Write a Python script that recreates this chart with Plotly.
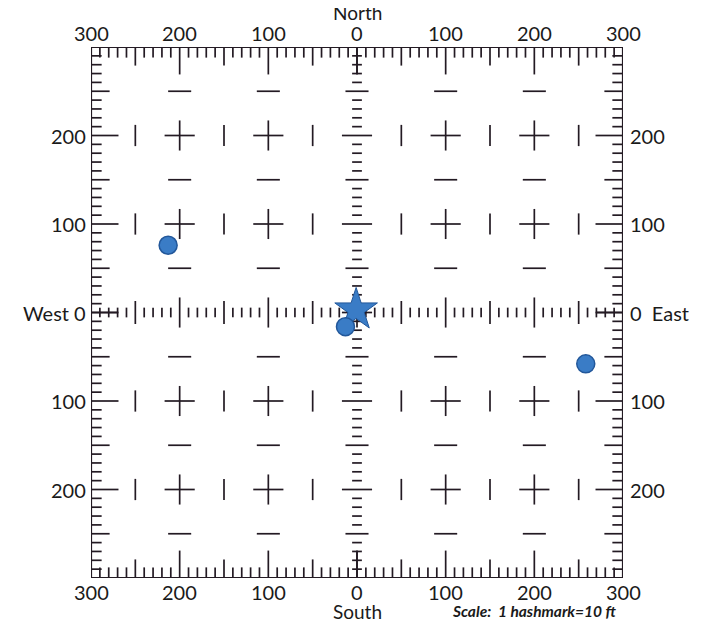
import plotly.graph_objects as go

# ---- data ----
grid_extent = 300          # ft, each direction
hash_step = 10             # 1 hashmark = 10 ft
edge_label_vals = [-300, -200, -100, 0, 100, 200, 300]
edge_label_text = ["300", "200", "100", "0", "100", "200", "300"]
side_label_vals = [200, 100, 0, -100, -200]
left_label_text = ["200", "100", "West 0", "100", "200"]
right_label_text = ["200", "100", "0  East", "100", "200"]

site_x = [-213, -13, 258]
site_y = [76, -16, -58]
center_x = [-1]
center_y = [3]

# ---- styles ----
INK = "#231a23"
TXT = "#1a1a1a"
FONT = "Lato"
BLUE = "#3a7cc6"
BLUE_EDGE = "#22579a"
LBL = 20

# tick lengths (data units)
EDGE_LEN = {10: 12, 50: 21, 100: 31}
AXIS_HALF = {10: 5.5, 50: 13, 100: 17}
CROSS_HALF = 17
BAR_HALF = 12
DASH_HALF = 13

xs, ys = [], []


def seg(x0, y0, x1, y1):
    xs.extend([x0, x1, None])
    ys.extend([y0, y1, None])


def kind(v):
    if v % 100 == 0:
        return 100
    if v % 50 == 0:
        return 50
    return 10


E = grid_extent
positions = list(range(-E + hash_step, E, hash_step))

# edge hashmarks pointing inward
for v in positions:
    L = EDGE_LEN[kind(v)]
    seg(v, E, v, E - L)      # top
    seg(v, -E, v, -E + L)    # bottom
    seg(-E, v, -E + L, v)    # left
    seg(E, v, E - L, v)      # right

# central axes hashmarks
for v in positions:
    h = AXIS_HALF[kind(v)]
    seg(v, -h, v, h)         # on east-west axis
    seg(-h, v, h, v)         # on north-south axis

# short axis line stubs at the edges
stub = 30
seg(-E, 0, -E + stub, 0)
seg(E - stub, 0, E, 0)
seg(0, E, 0, E - stub)
seg(0, -E, 0, -E + stub)

# interior grid marks
interior = list(range(-E + 50, E, 50))
for gx in interior:
    for gy in interior:
        if gx == 0 or gy == 0:
            continue
        x100 = gx % 100 == 0
        y100 = gy % 100 == 0
        if x100 and y100:
            seg(gx - CROSS_HALF, gy, gx + CROSS_HALF, gy)
            seg(gx, gy - CROSS_HALF, gx, gy + CROSS_HALF)
        elif (not x100) and y100:
            seg(gx, gy - BAR_HALF, gx, gy + BAR_HALF)
        elif x100 and not y100:
            seg(gx - DASH_HALF, gy, gx + DASH_HALF, gy)

fig = go.Figure()
fig.add_trace(go.Scatter(x=xs, y=ys, mode="lines",
                         line=dict(color=INK, width=1.7),
                         hoverinfo="skip", showlegend=False))
fig.add_trace(go.Scatter(x=center_x, y=center_y, mode="markers",
                         marker=dict(symbol="star", size=32, color=BLUE,
                                     line=dict(color=BLUE_EDGE, width=1)),
                         showlegend=False))
fig.add_trace(go.Scatter(x=site_x, y=site_y, mode="markers",
                         marker=dict(symbol="circle", size=18, color=BLUE,
                                     line=dict(color=BLUE_EDGE, width=1.5)),
                         showlegend=False))

fig.add_shape(type="rect", x0=-E, y0=-E, x1=E, y1=E,
              line=dict(color=INK, width=2.2), layer="above")

ann = []
for v, t in zip(edge_label_vals, edge_label_text):
    ann.append(dict(x=v, y=E, text=t, showarrow=False, yanchor="bottom",
                    yshift=0, font=dict(size=LBL, color=TXT, family=FONT)))
    ann.append(dict(x=v, y=-E, text=t, showarrow=False, yanchor="top",
                    yshift=0, font=dict(size=LBL, color=TXT, family=FONT)))
for v, t in zip(side_label_vals, left_label_text):
    ann.append(dict(x=-E, y=v, text=t, showarrow=False, xanchor="right",
                    xshift=-3, font=dict(size=LBL, color=TXT, family=FONT)))
for v, t in zip(side_label_vals, right_label_text):
    ann.append(dict(x=E, y=v, text=t, showarrow=False, xanchor="left",
                    xshift=5, font=dict(size=LBL, color=TXT, family=FONT)))
ann.append(dict(x=0, y=E, text="North", showarrow=False, yanchor="bottom",
                yshift=21, font=dict(size=19, color=TXT, family=FONT)))
ann.append(dict(x=0, y=-E, text="South", showarrow=False, yanchor="top",
                yshift=-20, font=dict(size=19, color=TXT, family=FONT)))
ann.append(dict(x=200, y=-E, text="<b><i>Scale:  1 hashmark=10 ft</i></b>",
                showarrow=False, yanchor="top", yshift=-22,
                font=dict(size=15.5, color=TXT, family=FONT)))

# the page adds an 8px body margin, so the figure is sized to fit the window
fig.update_layout(
    width=714, height=616,
    margin=dict(l=83, r=99, t=39, b=46),
    paper_bgcolor="white", plot_bgcolor="white",
    xaxis=dict(range=[-E, E], visible=False, fixedrange=True),
    yaxis=dict(range=[-E, E], visible=False, fixedrange=True),
    annotations=ann,
)

fig.write_html("out.html")
